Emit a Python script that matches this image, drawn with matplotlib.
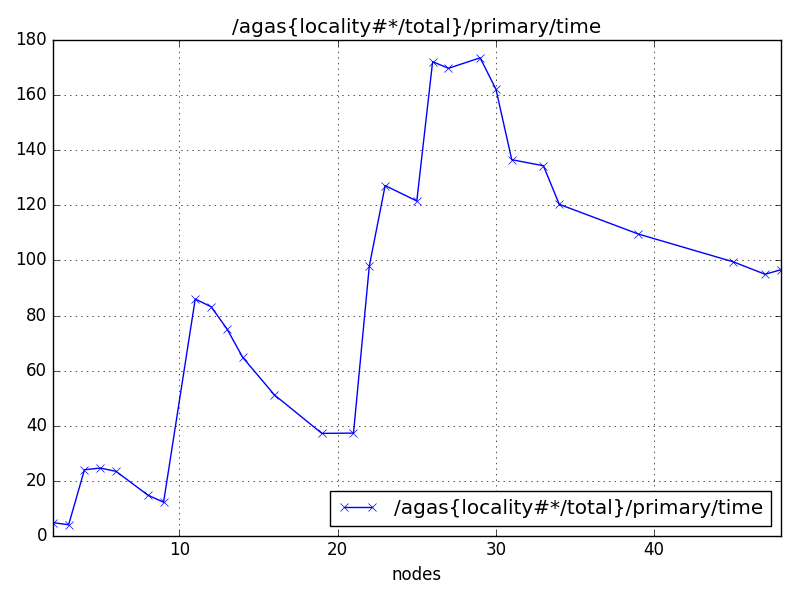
import matplotlib
matplotlib.use('Agg')
from matplotlib import pyplot as plt

plt.style.use('classic')

nodes = [2, 3, 4, 5, 6, 8, 9, 11, 12, 13, 14, 16, 19, 21, 22, 23, 25, 26, 27,
         29, 30, 31, 33, 34, 39, 45, 47, 48]
times = [4.8, 4.0, 24.0, 24.6, 23.4, 14.8, 12.2, 86.0, 83.2, 75.2, 64.8, 51.2,
         37.2, 37.3, 98.0, 127.2, 121.6, 172.2, 169.8, 173.6, 162.2, 136.6,
         134.4, 120.4, 109.6, 99.5, 95.0, 96.6]
label = '/agas{locality#*/total}/primary/time'

fig = plt.figure(figsize=(8, 6), dpi=100)
ax = fig.add_subplot(111)
ax.plot(nodes, times, 'bx-', label=label)
ax.set_xlim(2, 48)
ax.set_ylim(0, 180)
ax.set_title(label)
ax.set_xlabel('nodes')
ax.grid(True)
ax.legend(loc='lower right')
fig.subplots_adjust(left=0.066, right=0.976, top=0.933, bottom=0.107)
fig.savefig('out.png', dpi=100)
